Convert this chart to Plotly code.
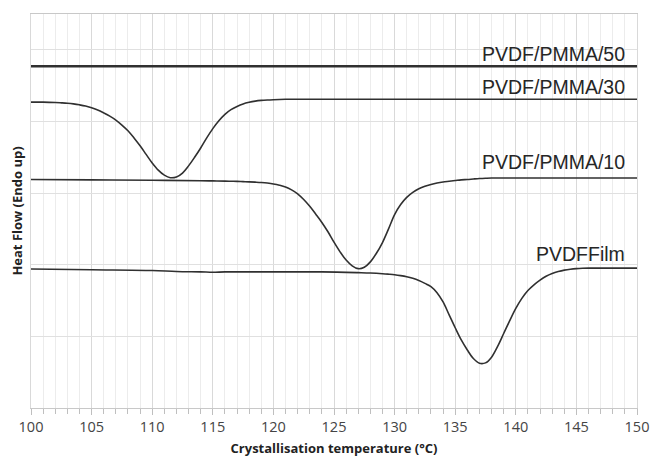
import plotly.graph_objects as go

# Crystallisation temperature (°C) and heat flow (arbitrary, offset) per sample
x_p50 = [100, 150]
y_p50 = [4.77, 4.77]

x_p30 = [100, 101, 102, 102.5, 103, 103.5, 104, 104.5, 105, 105.5, 106, 106.5, 107, 107.5, 108, 108.5, 109,
         109.5, 110, 110.5, 111, 111.5, 112, 112.5, 113, 113.5, 114, 114.5, 115, 115.5, 116, 116.5,
         117, 117.5, 118, 118.5, 119, 119.5, 120, 120.5, 121, 121.5, 122, 123, 125, 130, 135, 140, 145, 150]
y_p30 = [4.27, 4.27, 4.265, 4.26, 4.254, 4.245, 4.232, 4.215, 4.19, 4.16, 4.12, 4.075, 4.02, 3.95, 3.87, 3.77, 3.66,
         3.54, 3.42, 3.32, 3.25, 3.215, 3.225, 3.28, 3.38, 3.50, 3.63, 3.77, 3.90, 4.01, 4.10, 4.165,
         4.21, 4.245, 4.268, 4.284, 4.294, 4.30, 4.304, 4.307, 4.309, 4.31, 4.31, 4.31, 4.31, 4.31, 4.31, 4.31, 4.31, 4.31]

x_p10 = [100, 105, 110, 114, 115, 116, 116.5, 117, 117.5, 118, 118.5, 119, 119.5, 120, 120.5, 121, 121.5,
         122, 122.5, 123, 123.5, 124, 124.5, 125, 125.5, 126, 126.5, 127, 127.5, 128, 128.5, 129, 129.5,
         130, 130.5, 131, 131.5, 132, 132.5, 133, 133.5, 134, 134.5, 135, 135.5, 136, 136.5, 137, 137.5,
         138, 138.5, 139, 140, 145, 150]
y_p10 = [3.19, 3.185, 3.18, 3.172, 3.17, 3.167, 3.165, 3.163, 3.16, 3.157, 3.153, 3.148, 3.14, 3.128, 3.11, 3.085, 3.045,
         2.99, 2.91, 2.815, 2.705, 2.59, 2.46, 2.315, 2.18, 2.065, 1.985, 1.945, 1.965, 2.04, 2.16, 2.31, 2.50,
         2.70, 2.84, 2.94, 3.01, 3.06, 3.095, 3.12, 3.14, 3.155, 3.165, 3.175, 3.185, 3.19, 3.197, 3.203, 3.207,
         3.21, 3.21, 3.21, 3.21, 3.21, 3.21]

x_film = [100, 105, 110, 112, 114, 115, 116, 118, 120, 124, 127, 128, 129, 129.5, 130, 130.5, 131,
          131.5, 132, 132.5, 133, 133.5, 134, 134.5, 135, 135.5, 136, 136.5, 137, 137.5, 138, 138.5,
          139, 139.5, 140, 140.5, 141, 141.5, 142, 142.5, 143, 143.5, 144, 144.5, 145, 145.5, 146, 147, 150]
y_film = [1.94, 1.93, 1.92, 1.905, 1.90, 1.895, 1.90, 1.90, 1.90, 1.90, 1.89, 1.885, 1.875, 1.868, 1.86, 1.848, 1.832,
          1.81, 1.78, 1.74, 1.695, 1.61, 1.48, 1.30, 1.12, 0.95, 0.81, 0.69, 0.625, 0.63, 0.71, 0.86,
          1.04, 1.22, 1.39, 1.53, 1.64, 1.72, 1.785, 1.84, 1.878, 1.905, 1.925, 1.938, 1.946, 1.95, 1.952, 1.952, 1.952]

series = [
    ("PVDF/PMMA/50", x_p50, y_p50, 2.5, 4.94),
    ("PVDF/PMMA/30", x_p30, y_p30, 1.6, 4.48),
    ("PVDF/PMMA/10", x_p10, y_p10, 1.6, 3.44),
    ("PVDFFilm", x_film, y_film, 1.6, 2.15),
]

fig = go.Figure()
for name, xs, ys, w, ly in series:
    fig.add_trace(go.Scatter(x=xs, y=ys, mode="lines", name=name,
                             line=dict(color="#303030", width=w, shape="spline", smoothing=1.0),
                             showlegend=False))
    fig.add_annotation(x=149.2, y=ly, text=name, showarrow=False, xanchor="right", yanchor="middle",
                       font=dict(family="Liberation Sans, Arial", size=19.5, color="#262626"))

fig.update_layout(
    width=654, height=460,
    margin=dict(l=31, r=17, t=14, b=52, autoexpand=False),
    plot_bgcolor="white", paper_bgcolor="white",
)
fig.update_xaxes(
    range=[100, 150], dtick=5, tick0=100, automargin=False,
    showgrid=True, gridcolor="#d9d9d9", gridwidth=1,
    showline=True, linecolor="#c8c8c8", linewidth=1, mirror=True,
    ticks="outside", ticklen=6, tickcolor="#bfbfbf",
    minor=dict(dtick=1, showgrid=True, gridcolor="#ececec", ticks="outside", ticklen=5, tickcolor="#bfbfbf"),
    tickfont=dict(family="Open Sans", size=14.5, color="#444"),
    title=dict(text="<b>Crystallisation temperature (°C)</b>", standoff=8,
               font=dict(family="Open Sans", size=13, color="#222")),
    zeroline=False,
)
fig.update_yaxes(
    range=[0, 5.5], dtick=1, tick0=0, automargin=False,
    showgrid=True, gridcolor="#e0e0e0", gridwidth=1,
    showline=True, linecolor="#d9d9d9", mirror=True,
    showticklabels=False, ticks="",
    title=dict(text="<b>Heat Flow (Endo up)</b>", standoff=4,
               font=dict(family="Open Sans", size=13, color="#222")),
    zeroline=False,
)
fig.write_html("out.html")
